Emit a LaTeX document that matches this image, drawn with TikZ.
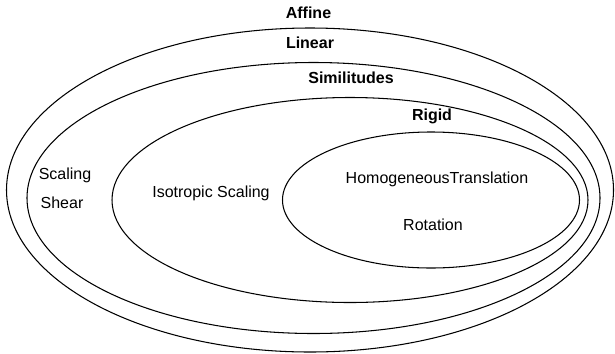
\documentclass[tikz,border=0pt]{standalone}
\usepackage{fontspec}
\setmainfont{Liberation Sans}
\usetikzlibrary{shapes.geometric}

\begin{document}
\begin{tikzpicture}[
        set/.style={ellipse,draw,line width=0.6pt,inner sep=0pt},
        setname/.style={font=\fontsize{9.1}{10}\selectfont\bfseries},
        member/.style={font=\fontsize{9.1}{10}\selectfont}]
      \useasboundingbox (0,0) rectangle (12.3,7.06);
      %% -- Nested sets of transformations --------------------
      \node[set,minimum width=12.14cm,minimum height=6.48cm](affine) at(6.2,3.26){};
      \node[set,minimum width=11.46cm,minimum height=5.42cm](linear) at(6.27,3.10){};
      \node[set,minimum width=9.52cm,minimum height=4.1cm]  (simil)  at(7.0,3.06){};
      \node[set,minimum width=5.94cm,minimum height=2.72cm] (rigid)  at(8.62,3.06){};
      %% -- Set names ------------------------------------------
      \node[setname](affname) at(6.17,6.80){Affine};
      \node[setname](linname) at(6.20,6.20){Linear};
      \node[setname](simname) at(7.02,5.50){Similitudes};
      \node[setname](rigname) at(8.64,4.74){Rigid};
      %% -- Members ---------------------------------------------
      \node[member](scal)  at(1.30,3.56){Scaling};
      \node[member](shear) at(1.24,3.00){Shear};
      \node[member](iso)   at(4.22,3.20){Isotropic Scaling};
      \node[member](trans) at(8.74,3.48){HomogeneousTranslation};
      \node[member](rot)   at(8.66,2.56){Rotation};
    \end{tikzpicture}
\end{document}
